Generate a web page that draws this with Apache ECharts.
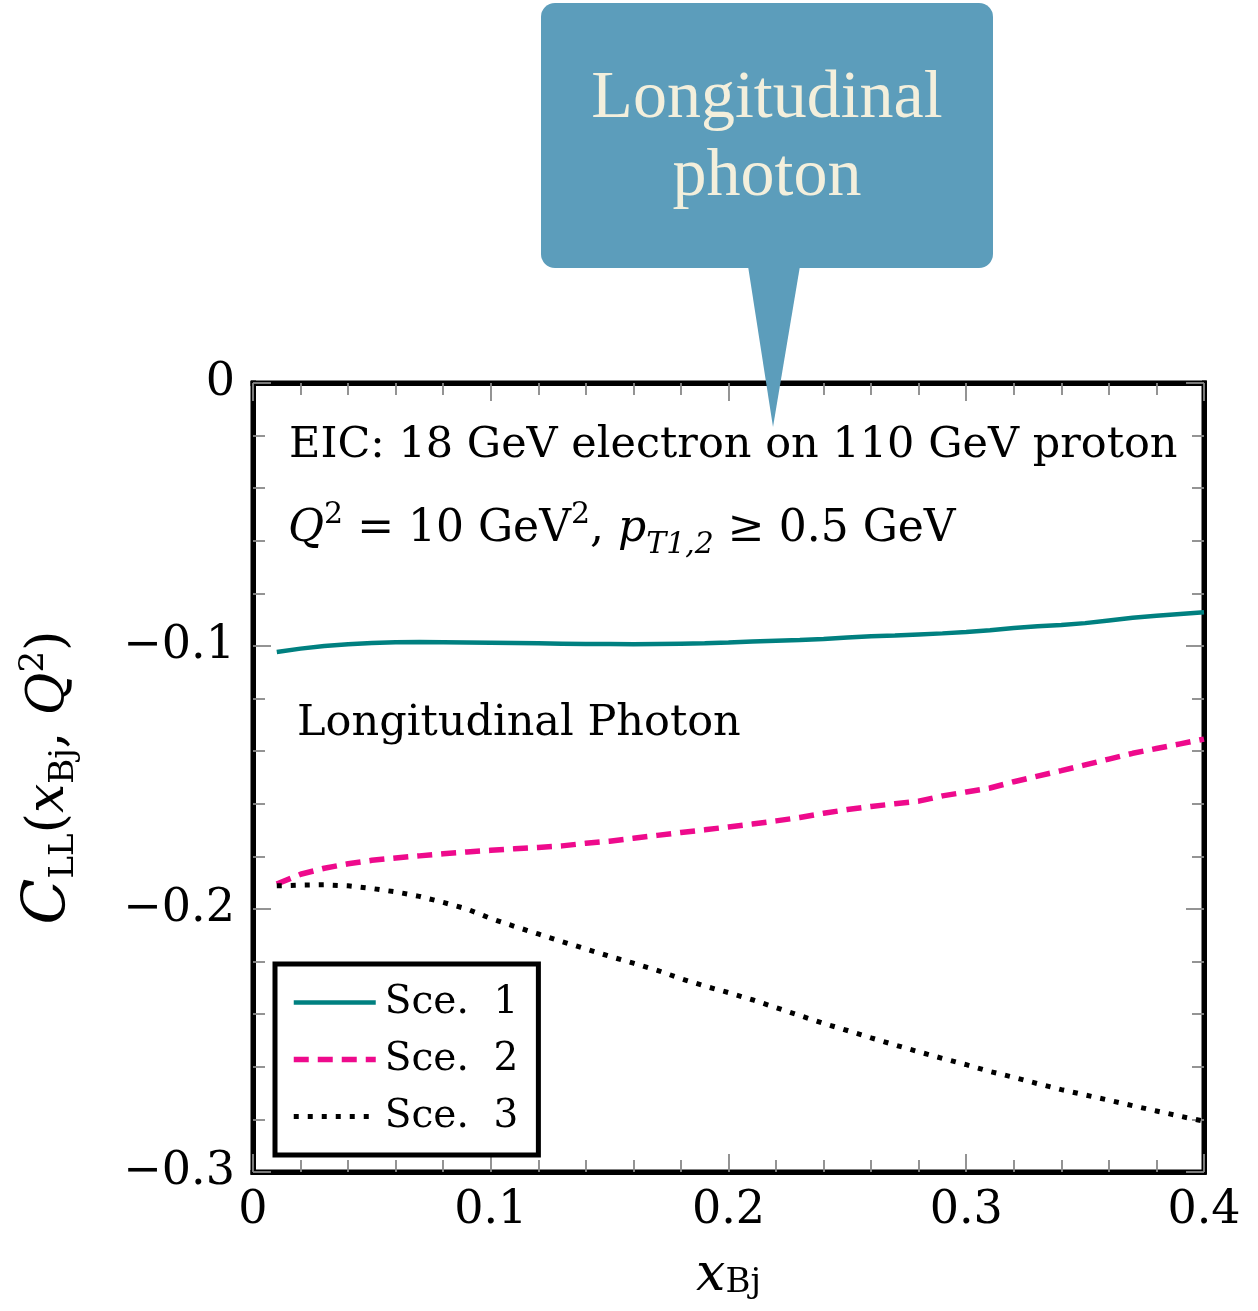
<!DOCTYPE html>
<html><head><meta charset="utf-8">
<script src="https://cdn.jsdelivr.net/npm/echarts@6/dist/echarts.min.js"></script>
<style>html,body{margin:0;padding:0;background:#fff}#c{width:1258px;height:1311px}</style>
</head><body><div id="c"></div>
<script>
const xs = [0.01,0.02,0.03,0.04,0.05,0.06,0.07,0.08,0.09,0.10,0.11,0.12,0.13,0.14,0.15,0.16,0.17,0.18,0.19,0.20,0.21,0.22,0.23,0.24,0.25,0.26,0.27,0.28,0.29,0.30,0.31,0.32,0.33,0.34,0.35,0.36,0.37,0.38,0.39,0.40];
const sce1 = [-0.1023,-0.1010,-0.1000,-0.0993,-0.0989,-0.0986,-0.0985,-0.0986,-0.0987,-0.0988,-0.0989,-0.0990,-0.0991,-0.0992,-0.0992,-0.0993,-0.0992,-0.0991,-0.0990,-0.0987,-0.0983,-0.0980,-0.0977,-0.0973,-0.0968,-0.0963,-0.0960,-0.0956,-0.0952,-0.0947,-0.0940,-0.0932,-0.0925,-0.0920,-0.0913,-0.0903,-0.0893,-0.0885,-0.0878,-0.0872];
const sce2 = [-0.1905,-0.1868,-0.1845,-0.1828,-0.1815,-0.1806,-0.1798,-0.1790,-0.1783,-0.1777,-0.1771,-0.1766,-0.1760,-0.1750,-0.1742,-0.1731,-0.1720,-0.1709,-0.1699,-0.1688,-0.1677,-0.1665,-0.1652,-0.1636,-0.1622,-0.1610,-0.1600,-0.1590,-0.1570,-0.1555,-0.1540,-0.1516,-0.1495,-0.1474,-0.1452,-0.1430,-0.1408,-0.1390,-0.1372,-0.1354];
const sce3 = [-0.1912,-0.1909,-0.1908,-0.1912,-0.1922,-0.1935,-0.1952,-0.1975,-0.2000,-0.2036,-0.2066,-0.2095,-0.2124,-0.2152,-0.2180,-0.2206,-0.2233,-0.2265,-0.2293,-0.2318,-0.2345,-0.2375,-0.2405,-0.2435,-0.2462,-0.2490,-0.2517,-0.2543,-0.2568,-0.2592,-0.2618,-0.2640,-0.2664,-0.2687,-0.2707,-0.2727,-0.2748,-0.2768,-0.2788,-0.2807];
const seriesNames = ['Sce.  1','Sce.  2','Sce.  3'];
const xTicks = ['0','0.1','0.2','0.3','0.4'];
const yTicks = ['0','\u22120.1','\u22120.2','\u22120.3'];

const FONT = 'DejaVu Serif';
const chart = echarts.init(document.getElementById('c'), null, {renderer:'canvas'});
const zip = (a) => xs.map((x,i)=>[x,a[i]]);
const line = () => ({show:true, onZero:false, lineStyle:{color:'#000', width:5, cap:'square'}});
const tick = () => ({show:true, inside:true, length:18, lineStyle:{color:'#888', width:1.8}});
const minor = () => ({show:true, splitNumber:5, length:12, lineStyle:{color:'#888', width:1.8}});
chart.setOption({
  animation:false,
  grid:{left:253, top:383, right:54, bottom:139, outerBoundsMode:'none', containLabel:false, show:true, borderColor:'#000', borderWidth:5, backgroundColor:'transparent'},
  xAxis:[{
    type:'value', min:0, max:0.4, interval:0.1, position:'bottom',
    axisLine:line(), splitLine:{show:false},
    axisTick:tick(), minorTick:minor(),
    axisLabel:{margin:16, fontFamily:FONT, fontSize:46, color:'#000', formatter:(v)=>xTicks[Math.round(v*10)]},
    name:'{i|x}{s|Bj}', nameLocation:'middle', nameGap:78,
    nameTextStyle:{rich:{i:{fontFamily:FONT, fontStyle:'italic', fontSize:52, color:'#000', lineHeight:50, verticalAlign:'top'}, s:{fontFamily:FONT, fontSize:34, color:'#000', lineHeight:34, verticalAlign:'bottom', padding:[22,0,0,0]}}}
  },{
    type:'value', min:0, max:0.4, interval:0.1, position:'top',
    axisLine:line(), splitLine:{show:false}, axisLabel:{show:false},
    axisTick:tick(), minorTick:minor()
  }],
  yAxis:[{
    type:'value', min:-0.3, max:0, interval:0.1, position:'left',
    axisLine:line(), splitLine:{show:false},
    axisTick:tick(), minorTick:minor(),
    axisLabel:{margin:18, fontFamily:FONT, fontSize:46, color:'#000', formatter:(v)=>yTicks[Math.round(-v*10)]},
    name:'{c|C}{s|LL}{n|(}{i|x}{s|Bj}{n|, }{i|Q}{p|2}{n|)}', nameLocation:'middle', nameGap:172, nameRotate:90,
    nameTextStyle:{rich:{
      c:{fontFamily:FONT, fontStyle:'italic', fontSize:60, color:'#000', lineHeight:64},
      i:{fontFamily:FONT, fontStyle:'italic', fontSize:52, color:'#000', lineHeight:64},
      n:{fontFamily:FONT, fontSize:52, color:'#000', lineHeight:64},
      s:{fontFamily:FONT, fontSize:34, color:'#000', lineHeight:34, verticalAlign:'bottom', padding:[28,0,0,0]},
      p:{fontFamily:FONT, fontSize:34, color:'#000', lineHeight:34, verticalAlign:'top'}
    }}
  },{
    type:'value', min:-0.3, max:0, interval:0.1, position:'right',
    axisLine:line(), splitLine:{show:false}, axisLabel:{show:false},
    axisTick:tick(), minorTick:minor()
  }],
  legend:{
    show:true, left:275, top:964, orient:'vertical',
    padding:[15,20,15,16], itemGap:10, itemWidth:82, itemHeight:20,
    borderColor:'#000', borderWidth:5, backgroundColor:'#fff',
    itemStyle:{opacity:0}, lineStyle:{width:'inherit'},
    textStyle:{fontFamily:FONT, fontSize:39, color:'#000', lineHeight:47, padding:[0,0,0,4]},
    data:seriesNames
  },
  series:[
    {name:seriesNames[0], type:'line', data:zip(sce1), symbol:'none', smooth:false, lineStyle:{color:'#008080', width:4.5}, itemStyle:{color:'#008080'}, z:3},
    {name:seriesNames[1], type:'line', data:zip(sce2), symbol:'none', smooth:false, lineStyle:{color:'#ee0a8c', width:5.5, type:[15,9], cap:'butt'}, itemStyle:{color:'#ee0a8c'}, z:3},
    {name:seriesNames[2], type:'line', data:zip(sce3), symbol:'none', smooth:false, lineStyle:{color:'#000', width:5, type:[5,9], cap:'butt'}, itemStyle:{color:'#000'}, z:3}
  ],
  graphic:[
    {type:'text', left:289, top:424, z:10, style:{text:'EIC: 18 GeV electron on 110 GeV proton', font:'43px "DejaVu Serif"', fill:'#000'}},
    {type:'text', left:288, top:500, z:10, style:{
      text:'{i|Q}{p|2}{n| = 10 GeV}{p|2}{n|, }{i|p}{s|T1,2}{n| \u2265 0.5 GeV}',
      rich:{
        i:{fontFamily:FONT, fontStyle:'italic', fontSize:44, fill:'#000', lineHeight:60},
        n:{fontFamily:FONT, fontSize:44, fill:'#000', lineHeight:60},
        p:{fontFamily:FONT, fontSize:30, fill:'#000', lineHeight:30, verticalAlign:'top'},
        s:{fontFamily:FONT, fontStyle:'italic', fontSize:30, fill:'#000', lineHeight:30, verticalAlign:'bottom'}
      }}},
    {type:'text', left:297, top:702, z:10, style:{text:'Longitudinal Photon', font:'43px "DejaVu Serif"', fill:'#000'}},
    {type:'rect', z:20, shape:{x:541, y:3, width:452, height:265, r:14}, style:{fill:'#5c9dbb'}},
    {type:'polygon', z:20, shape:{points:[[748,266],[800,266],[773,427]]}, style:{fill:'#5c9dbb'}},
    {type:'text', z:21, x:767, y:99, style:{text:'Longitudinal', font:'68px "Liberation Serif"', fill:'#f3efdc', align:'center', verticalAlign:'middle'}},
    {type:'text', z:21, x:767, y:177, style:{text:'photon', font:'68px "Liberation Serif"', fill:'#f3efdc', align:'center', verticalAlign:'middle'}}
  ]
});
</script></body></html>
